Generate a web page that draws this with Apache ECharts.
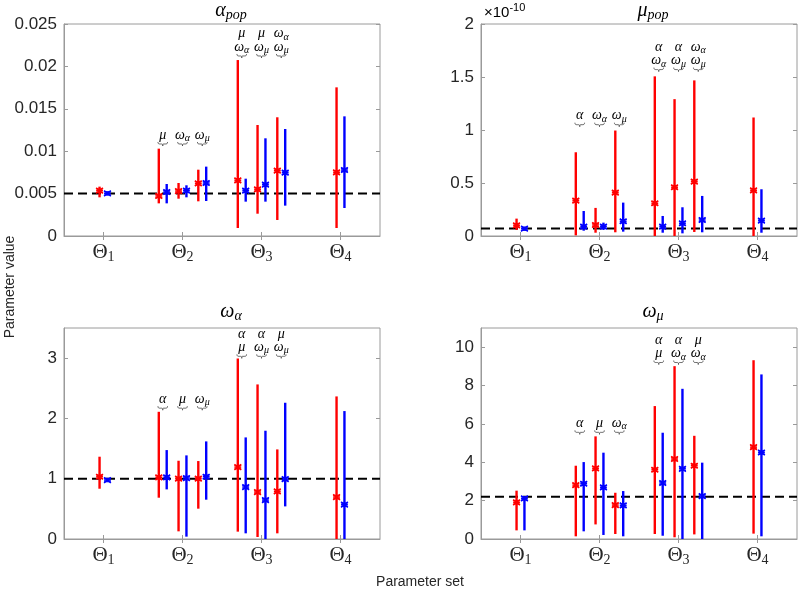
<!DOCTYPE html>
<html><head><meta charset="utf-8">
<script src="https://cdn.jsdelivr.net/npm/echarts@6/dist/echarts.min.js"></script>
<style>html,body{margin:0;padding:0;background:#fff}#c{width:800px;height:592px}</style>
</head><body><div id="c"></div>
<script>
// ---------- data ----------
const thetaSubs = ['1', '2', '3', '4'];
// parameter set index of each error bar pair, and sub-group inside the set
const barSet   = [1, 2, 2, 2, 3, 3, 3, 4];
const barGroup = [0, -1, 0, 1, -1, 0, 1, 0];
// annotated groups
const annotSet   = [2, 2, 2, 3, 3, 3];
const annotGroup = [-1, 0, 1, -1, 0, 1];

// alpha_pop
const alphaPopRedMid  = [0.00535, 0.00472, 0.0053, 0.00621, 0.00656, 0.0055, 0.0077, 0.00751];
const alphaPopRedLo   = [0.00456, 0.00385, 0.0044, 0.00409, 0.00094, 0.00263, 0.00189, 0.00094];
const alphaPopRedHi   = [0.00582, 0.0103, 0.00625, 0.00782, 0.02075, 0.01309, 0.014, 0.01753];
const alphaPopBlueMid = [0.00503, 0.00519, 0.00535, 0.00625, 0.00535, 0.00605, 0.00747, 0.00778];
const alphaPopBlueLo  = [0.0048, 0.00385, 0.00456, 0.00413, 0.00405, 0.00405, 0.00358, 0.0033];
const alphaPopBlueHi  = [0.00519, 0.00613, 0.00598, 0.00818, 0.00676, 0.01152, 0.01262, 0.01411];
const alphaPopTrue = 0.005;
const alphaPopTicks = [0, 0.005, 0.01, 0.015, 0.02, 0.025];
const alphaPopLabels = [['μ'], ['ω_α'], ['ω_μ'], ['μ', 'ω_α'], ['μ', 'ω_μ'], ['ω_α', 'ω_μ']];
const alphaPopBraceLevel = [0.01085, 0.02123];

// mu_pop (values in units of 1e-10)
const muPopRedMid  = [0.101, 0.334, 0.104, 0.409, 0.309, 0.46, 0.513, 0.431];
const muPopRedLo   = [0.057, 0.006, 0.031, 0.035, 0, 0, 0.038, 0];
const muPopRedHi   = [0.164, 0.79, 0.265, 0.995, 1.506, 1.291, 1.468, 1.118];
const muPopBlueMid = [0.069, 0.088, 0.088, 0.139, 0.088, 0.12, 0.151, 0.145];
const muPopBlueLo  = [0.057, 0.05, 0.057, 0.041, 0.031, 0.025, 0.035, 0.031];
const muPopBlueHi  = [0.082, 0.236, 0.126, 0.315, 0.189, 0.271, 0.378, 0.441];
const muPopTrue = 0.07;
const muPopTicks = [0, 0.5, 1, 1.5, 2];
const muPopLabels = [['α'], ['ω_α'], ['ω_μ'], ['α', 'ω_α'], ['α', 'ω_μ'], ['ω_α', 'ω_μ']];
const muPopBraceLevel = [1.05, 1.57];

// omega_alpha
const omegaAlphaRedMid  = [1.033, 1.022, 1.0, 1.0, 1.193, 0.779, 0.79, 0.696];
const omegaAlphaRedLo   = [0.834, 0.685, 0.127, 0.503, 0.122, 0.033, 0.094, 0];
const omegaAlphaRedHi   = [1.365, 2.11, 1.298, 1.293, 2.994, 2.564, 1.486, 2.365];
const omegaAlphaBlueMid = [0.978, 1.022, 1.011, 1.033, 0.862, 0.646, 0.994, 0.569];
const omegaAlphaBlueLo  = [0.95, 0.823, 0.039, 0.652, 0.094, 0, 0.541, 0];
const omegaAlphaBlueHi  = [1.006, 1.475, 1.387, 1.619, 1.685, 1.796, 2.26, 2.122];
const omegaAlphaTrue = 1;
const omegaAlphaTicks = [0, 1, 2, 3];
const omegaAlphaLabels = [['α'], ['μ'], ['ω_μ'], ['α', 'μ'], ['α', 'ω_μ'], ['μ', 'ω_μ']];
const omegaAlphaBraceLevel = [2.17, 3.03];

// omega_mu
const omegaMuRedMid  = [1.91, 2.81, 3.68, 1.77, 3.61, 4.17, 3.82, 4.79];
const omegaMuRedLo   = [0.45, 0.14, 0.76, 0.26, 0.26, 0.09, 0.24, 0.28];
const omegaMuRedHi   = [2.52, 3.82, 5.35, 2.41, 6.93, 9.01, 5.38, 9.32];
const omegaMuBlueMid = [2.12, 2.88, 2.69, 1.75, 2.92, 3.66, 2.24, 4.51];
const omegaMuBlueLo  = [0.45, 0.40, 0.21, 0.14, 0.17, 0, 0, 0.14];
const omegaMuBlueHi  = [2.19, 4.01, 4.5, 2.5, 5.54, 7.83, 3.98, 8.58];
const omegaMuTrue = 2.2;
const omegaMuTicks = [0, 2, 4, 6, 8, 10];
const omegaMuLabels = [['α'], ['μ'], ['ω_α'], ['α', 'μ'], ['α', 'ω_α'], ['μ', 'ω_α']];
const omegaMuBraceLevel = [5.56, 9.2];

// ---------- layout / style ----------
const TXT = '#262626';
const BOX = '#9a9a9a';
const SERIF = '"Liberation Serif", "DejaVu Serif", serif';
const SANS = '"Liberation Sans", Arial, sans-serif';

const panels = [
  {grid: {left: 64, top: 24, width: 316, height: 212}, max: 0.025, ticks: alphaPopTicks,
   red: [alphaPopRedMid, alphaPopRedLo, alphaPopRedHi], blue: [alphaPopBlueMid, alphaPopBlueLo, alphaPopBlueHi],
   truth: alphaPopTrue, labels: alphaPopLabels, brace: alphaPopBraceLevel,
   title: '{t|α}{ts|pop}', tx: 231, ty: 11},
  {grid: {left: 481, top: 24, width: 316, height: 212}, max: 2, ticks: muPopTicks,
   red: [muPopRedMid, muPopRedLo, muPopRedHi], blue: [muPopBlueMid, muPopBlueLo, muPopBlueHi],
   truth: muPopTrue, labels: muPopLabels, brace: muPopBraceLevel,
   title: '{t|μ}{ts|pop}', tx: 653, ty: 11},
  {grid: {left: 64, top: 328, width: 316, height: 211}, max: 3.5, ticks: omegaAlphaTicks,
   red: [omegaAlphaRedMid, omegaAlphaRedLo, omegaAlphaRedHi], blue: [omegaAlphaBlueMid, omegaAlphaBlueLo, omegaAlphaBlueHi],
   truth: omegaAlphaTrue, labels: omegaAlphaLabels, brace: omegaAlphaBraceLevel,
   title: '{t|ω}{ts|α}', tx: 231, ty: 312},
  {grid: {left: 481, top: 328, width: 316, height: 211}, max: 11, ticks: omegaMuTicks,
   red: [omegaMuRedMid, omegaMuRedLo, omegaMuRedHi], blue: [omegaMuBlueMid, omegaMuBlueLo, omegaMuBlueHi],
   truth: omegaMuTrue, labels: omegaMuLabels, brace: omegaMuBraceLevel,
   title: '{t|ω}{ts|μ}', tx: 653, ty: 312}
];

const annRich = {
  a:  {fontFamily: SERIF, fontStyle: 'italic', fontSize: 14, color: '#333'},
  as: {fontFamily: SERIF, fontStyle: 'italic', fontSize: 10, color: '#333', padding: [7, 0, 0, 0]}
};
function toRich(label) {
  const parts = label.split('_');
  return '{a|' + parts[0] + '}' + (parts[1] ? '{as|' + parts[1] + '}' : '');
}
const bracePath = 'M0,0 C0,2.4 1,2.5 3,2.5 L4.6,2.5 C5.6,2.5 6,3 6,5 C6,3 6.4,2.5 7.4,2.5 L9,2.5 C11,2.5 12,2.4 12,0';

function barItem(color) {
  return function (params, api) {
    const x = api.value(0);
    const pm = api.coord([x, api.value(1)]);
    const pl = api.coord([x, api.value(2)]);
    const ph = api.coord([x, api.value(3)]);
    const s = 3.4;
    const ms = {stroke: color, lineWidth: 1.6};
    return {type: 'group', children: [
      {type: 'line', shape: {x1: ph[0], y1: ph[1], x2: pl[0], y2: pl[1]}, style: {stroke: color, lineWidth: 2.4}},
      {type: 'line', shape: {x1: pm[0] - s, y1: pm[1], x2: pm[0] + s, y2: pm[1]}, style: ms},
      {type: 'line', shape: {x1: pm[0] - s, y1: pm[1] - s * 0.8, x2: pm[0] + s, y2: pm[1] + s * 0.8}, style: ms},
      {type: 'line', shape: {x1: pm[0] - s, y1: pm[1] + s * 0.8, x2: pm[0] + s, y2: pm[1] - s * 0.8}, style: ms},
      {type: 'line', shape: {x1: pm[0] - s, y1: pm[1] - 1.7, x2: pm[0] + s, y2: pm[1] - 1.7}, style: {stroke: color, lineWidth: 1.1}},
      {type: 'line', shape: {x1: pm[0] - s, y1: pm[1] + 1.7, x2: pm[0] + s, y2: pm[1] + 1.7}, style: {stroke: color, lineWidth: 1.1}}
    ]};
  };
}

const xAxes = [], yAxes = [], grids = [], series = [], graphics = [];
panels.forEach((p, i) => {
  grids.push(Object.assign({show: true, borderColor: BOX, borderWidth: 1, backgroundColor: 'transparent', containLabel: false}, p.grid));
  const tickStyle = {show: true, inside: true, length: 4, lineStyle: {color: BOX, width: 1}};
  xAxes.push({gridIndex: i, type: 'value', min: 0.5, max: 4.5, position: 'bottom',
    axisLine: {show: true, onZero: false, lineStyle: {color: BOX}},
    axisTick: Object.assign({customValues: [1, 2, 3, 4]}, tickStyle),
    splitLine: {show: false},
    axisLabel: {customValues: [1, 2, 3, 4], margin: 5, color: TXT,
      formatter: v => '{T|Θ}{Ts|' + thetaSubs[Math.round(v) - 1] + '}',
      rich: {T: {fontFamily: SERIF, fontSize: 21, color: TXT},
             Ts: {fontFamily: SERIF, fontSize: 14, color: TXT, padding: [9, 0, 0, 0]}}}});
  xAxes.push({gridIndex: i, type: 'value', min: 0.5, max: 4.5, position: 'top',
    axisLine: {show: false}, axisLabel: {show: false}, splitLine: {show: false},
    axisTick: Object.assign({customValues: [1, 2, 3, 4]}, tickStyle)});
  yAxes.push({gridIndex: i, type: 'value', min: 0, max: p.max, position: 'left',
    axisLine: {show: true, onZero: false, lineStyle: {color: BOX}},
    axisTick: Object.assign({customValues: p.ticks}, tickStyle),
    splitLine: {show: false},
    axisLabel: {customValues: p.ticks, margin: 7, color: TXT, fontFamily: SANS, fontSize: 17,
      formatter: v => String(+v.toFixed(6))}});
  yAxes.push({gridIndex: i, type: 'value', min: 0, max: p.max, position: 'right',
    axisLine: {show: false}, axisLabel: {show: false}, splitLine: {show: false},
    axisTick: Object.assign({customValues: p.ticks}, tickStyle)});
  const xi = i * 2, yi = i * 2;
  // truth line
  series.push({type: 'line', xAxisIndex: xi, yAxisIndex: yi, symbol: 'none', silent: true, z: 1,
    data: [[0.5, p.truth], [4.5, p.truth]],
    lineStyle: {color: '#000', width: 2, type: [9, 5]}});
  // error bars
  [['red', '#ff0000', -0.05], ['blue', '#0000ff', 0.05]].forEach(([key, col, off]) => {
    const arr = p[key];
    const data = barSet.map((s, k) => [s + barGroup[k] * 0.25 + off, arr[0][k], arr[1][k], arr[2][k]]);
    series.push({type: 'custom', xAxisIndex: xi, yAxisIndex: yi, z: 3, silent: true,
      itemStyle: {color: col}, renderItem: barItem(col), data: data,
      encode: {x: 0, y: [1, 2, 3]}});
  });
  // annotations
  const labels = p.labels;
  const annData = annotSet.map((s, k) => [s + annotGroup[k] * 0.25, p.brace[s === 2 ? 0 : 1], k]);
  series.push({type: 'custom', xAxisIndex: xi, yAxisIndex: yi, z: 4, silent: true,
    data: annData, encode: {x: 0, y: 1},
    renderItem: function (params, api) {
      const pt = api.coord([api.value(0), api.value(1)]);
      const lab = labels[api.value(2)];
      const children = [{type: 'path', shape: {pathData: bracePath, x: pt[0] - 6.5, y: pt[1] - 2, width: 13, height: 4},
        style: {stroke: '#444', lineWidth: 0.8, fill: null}}];
      lab.slice().reverse().forEach((L, j) => {
        children.push({type: 'text', x: pt[0], y: pt[1] - 9 - j * 13.5,
          style: {text: toRich(L), rich: annRich, align: 'center', verticalAlign: 'middle'}});
      });
      return {type: 'group', children: children};
    }});
  graphics.push({type: 'text', x: p.tx, y: p.ty, silent: true,
    style: {text: p.title, align: 'center', verticalAlign: 'middle',
      rich: {t: {fontFamily: SERIF, fontStyle: 'italic', fontSize: 20, color: TXT},
             ts: {fontFamily: SERIF, fontStyle: 'italic', fontSize: 14, color: TXT, padding: [9, 0, 0, 0]}}}});
});

graphics.push({type: 'text', x: 10, y: 287, rotation: Math.PI / 2, silent: true,
  style: {text: 'Parameter value', align: 'center', verticalAlign: 'middle', font: '14px ' + SANS, fill: TXT}});
graphics.push({type: 'text', x: 420, y: 582, silent: true,
  style: {text: 'Parameter set', align: 'center', verticalAlign: 'middle', font: '14px ' + SANS, fill: TXT}});
graphics.push({type: 'text', x: 484, y: 13, silent: true,
  style: {text: '{a|×10}{b|-10}', align: 'left', verticalAlign: 'middle',
    rich: {a: {fontFamily: SANS, fontSize: 15, color: TXT},
           b: {fontFamily: SANS, fontSize: 11, color: TXT, padding: [0, 0, 10, 0]}}}});

const chart = echarts.init(document.getElementById('c'), null, {renderer: 'canvas'});
chart.setOption({
  animation: false,
  backgroundColor: '#fff',
  grid: grids, xAxis: xAxes, yAxis: yAxes, series: series, graphic: graphics
});
</script>
</body></html>
